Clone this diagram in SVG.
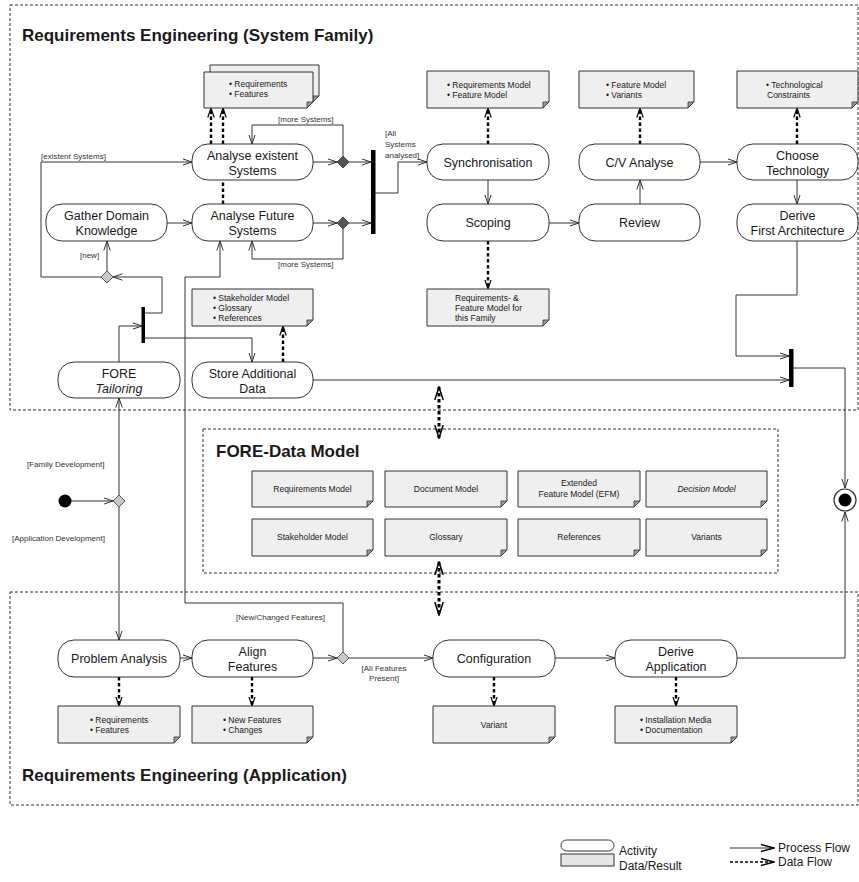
<svg xmlns="http://www.w3.org/2000/svg" width="859" height="882" viewBox="0 0 859 882">
  <defs>
    <style>
      .frame { fill: none; stroke: #333; stroke-width: 1; stroke-dasharray: 3 2; }
      .act { fill: #fff; stroke: #333; stroke-width: 1; }
      .doc { fill: #efefef; stroke: #333; stroke-width: 1; }
      .fold { fill: #9a9a9a; stroke: #333; stroke-width: 0.8; }
      .flow { fill: none; stroke: #333; stroke-width: 1; marker-end: url(#arr); }
      .data { fill: none; stroke: #000; stroke-width: 2.4; stroke-dasharray: 3.5 2.5; marker-end: url(#darr); }
      .both { fill: none; stroke: #000; stroke-width: 3; stroke-dasharray: 3.5 2.5; marker-start: url(#barr); marker-end: url(#barr); }
      text { font-family: "Liberation Sans", Arial, Helvetica, sans-serif; fill: #1a1a1a; }
      .t { font-size: 12.5px; text-anchor: middle; }
      .s { font-size: 8.5px; }
      .sc { font-size: 8.5px; text-anchor: middle; }
      .lbl { font-size: 8px; fill: #333; }
      .title { font-size: 17px; font-weight: bold; }
      .leg { font-size: 12px; }
      .dia { stroke: #333; stroke-width: 0.8; }
    </style>
    <marker id="arr" viewBox="0 0 10 8" refX="9.5" refY="4" markerWidth="10" markerHeight="8" orient="auto" markerUnits="userSpaceOnUse">
      <path d="M0,0.8 L9.5,4 L0,7.2" fill="none" stroke="#333" stroke-width="1"/>
    </marker>
    <marker id="darr" viewBox="0 0 10 8" refX="9.5" refY="4" markerWidth="10" markerHeight="8" orient="auto" markerUnits="userSpaceOnUse">
      <path d="M0,0.8 L9.5,4 L0,7.2" fill="none" stroke="#000" stroke-width="1.2"/>
    </marker>
    <marker id="barr" viewBox="0 0 14 10" refX="13" refY="5" markerWidth="14" markerHeight="10" orient="auto-start-reverse" markerUnits="userSpaceOnUse">
      <path d="M0,0.8 L13,5 L0,9.2" fill="none" stroke="#000" stroke-width="1.5"/>
    </marker>
    <marker id="larr" viewBox="0 0 14 10" refX="13" refY="5" markerWidth="14" markerHeight="10" orient="auto" markerUnits="userSpaceOnUse">
      <path d="M0,1.5 L13,5 L0,8.5" fill="none" stroke="#000" stroke-width="1.4"/>
    </marker>
  </defs>

  <rect width="859" height="882" fill="#fff"/>

  <!-- swimlane frames -->
  <g id="frames">
    <rect class="frame" x="10" y="5" width="848" height="405"/>
    <text class="title" x="22" y="41">Requirements Engineering (System Family)</text>
    <rect class="frame" x="203" y="429" width="575" height="144"/>
    <text class="title" x="216" y="457">FORE-Data Model</text>
    <rect class="frame" x="10" y="592" width="848" height="213"/>
    <text class="title" x="22" y="781">Requirements Engineering (Application)</text>
  </g>

  <!-- process and data flows -->
  <g id="connectors">
    <!-- process flow -->
    <path class="flow" d="M101,277 H41 V162 H192"/>
    <path class="flow" d="M167,223 H192"/>
    <path class="flow" d="M107,271 V241"/>
    <path class="flow" d="M145,313 H162 V277 H113"/>
    <path class="flow" d="M119,362 V326 H142"/>
    <path class="flow" d="M145,338 H252 V362"/>
    <path class="flow" d="M343,652 V603 H185 V277 H220 V241"/>
    <path class="flow" d="M313,162 H337"/>
    <path class="flow" d="M349,162 H371"/>
    <path class="flow" d="M343,156 V125 H252 V144"/>
    <path class="flow" d="M313,223 H337"/>
    <path class="flow" d="M349,223 H371"/>
    <path class="flow" d="M343,229 V259 H252 V241"/>
    <path class="flow" d="M375,193 H398 V162 H427"/>
    <path class="flow" d="M488,180 V204"/>
    <path class="flow" d="M549,223 H579"/>
    <path class="flow" d="M640,204 V180"/>
    <path class="flow" d="M700,162 H737"/>
    <path class="flow" d="M797,180 V204"/>
    <path class="flow" d="M797,241 V295 H736 V356 H789"/>
    <path class="flow" d="M313,380 H789"/>
    <path class="flow" d="M793,368 H845 V488"/>
    <path class="flow" d="M71,501 H113"/>
    <path class="flow" d="M119,495 V398"/>
    <path class="flow" d="M119,507 V640"/>
    <path class="flow" d="M180,658 H192"/>
    <path class="flow" d="M313,658 H337"/>
    <path class="flow" d="M349,658 H433"/>
    <path class="flow" d="M555,658 H615"/>
    <path class="flow" d="M737,658 H845 V512"/>

    <!-- data flow -->
    <path class="data" d="M211,144 V108"/>
    <path class="data" d="M223,204 V108"/>
    <path class="data" d="M488,144 V108"/>
    <path class="data" d="M640,144 V108"/>
    <path class="data" d="M797,144 V108"/>
    <path class="data" d="M488,241 V289"/>
    <path class="data" d="M283,362 V326"/>
    <path class="data" d="M119,677 V706"/>
    <path class="data" d="M252,677 V706"/>
    <path class="data" d="M494,677 V706"/>
    <path class="data" d="M676,677 V706"/>
    <path class="both" d="M439,387 V438"/>
    <path class="both" d="M439,562 V615"/>

    <!-- guard labels -->
    <text class="lbl" x="41" y="159">[existent Systems]</text>
    <text class="lbl" x="80" y="258">[new]</text>
    <text class="lbl" x="278" y="122">[more Systems]</text>
    <text class="lbl" x="278" y="267">[more Systems]</text>
    <text class="lbl" x="385" y="136">[All</text>
    <text class="lbl" x="385" y="147">Systems</text>
    <text class="lbl" x="385" y="158">analysed]</text>
    <text class="lbl" x="27" y="467">[Family Development]</text>
    <text class="lbl" x="12" y="541">[Application Development]</text>
    <text class="lbl" x="236" y="620">[New/Changed Features]</text>
    <text class="lbl" x="384" y="671" text-anchor="middle">[All Features</text>
    <text class="lbl" x="384" y="681" text-anchor="middle">Present]</text>
  </g>

  <!-- control nodes -->
  <g id="decision-existent"><path class="dia" d="M343,156 L349,162 L343,168 L337,162 Z" fill="#555"/></g>
  <g id="decision-future"><path class="dia" d="M343,217 L349,223 L343,229 L337,223 Z" fill="#555"/></g>
  <g id="decision-new"><path class="dia" d="M107,271 L113,277 L107,283 L101,277 Z" fill="#c8c8c8"/></g>
  <g id="decision-mode"><path class="dia" d="M119,495 L125,501 L119,507 L113,501 Z" fill="#c8c8c8"/></g>
  <g id="decision-features"><path class="dia" d="M343,652 L349,658 L343,664 L337,658 Z" fill="#c8c8c8"/></g>
  <g id="join-analysis"><rect x="371" y="150" width="4.5" height="84" fill="#000"/></g>
  <g id="join-tailoring"><rect x="141.5" y="307" width="3.5" height="36" fill="#000"/></g>
  <g id="join-family"><rect x="789" y="349" width="4.5" height="38" fill="#000"/></g>
  <g id="start"><circle cx="65" cy="501" r="6.5" fill="#000"/></g>
  <g id="end"><circle cx="845" cy="500" r="11" fill="#fff" stroke="#333" stroke-width="1.2"/><circle cx="845" cy="500" r="6.5" fill="#000"/></g>

  <!-- activities -->
  <g id="analyse-existent"><rect class="act" x="192" y="144" width="121" height="36" rx="16"/><text class="t" x="252.5" y="159.5">Analyse existent</text><text class="t" x="252.5" y="174.5">Systems</text></g>
  <g id="gather-domain"><rect class="act" x="46" y="204" width="121" height="37" rx="16"/><text class="t" x="106.5" y="220">Gather Domain</text><text class="t" x="106.5" y="235">Knowledge</text></g>
  <g id="analyse-future"><rect class="act" x="192" y="204" width="121" height="37" rx="16"/><text class="t" x="252.5" y="220">Analyse Future</text><text class="t" x="252.5" y="235">Systems</text></g>
  <g id="synchronisation"><rect class="act" x="427" y="144" width="122" height="36" rx="16"/><text class="t" x="488" y="166.5">Synchronisation</text></g>
  <g id="scoping"><rect class="act" x="427" y="204" width="122" height="37" rx="16"/><text class="t" x="488" y="227">Scoping</text></g>
  <g id="cv-analyse"><rect class="act" x="579" y="144" width="121" height="36" rx="16"/><text class="t" x="639.5" y="166.5">C/V Analyse</text></g>
  <g id="review"><rect class="act" x="579" y="204" width="121" height="37" rx="16"/><text class="t" x="639.5" y="227">Review</text></g>
  <g id="choose-technology"><rect class="act" x="737" y="144" width="121" height="36" rx="16"/><text class="t" x="797.5" y="159.5">Choose</text><text class="t" x="797.5" y="174.5">Technology</text></g>
  <g id="derive-architecture"><rect class="act" x="737" y="204" width="121" height="37" rx="16"/><text class="t" x="797.5" y="220">Derive</text><text class="t" x="797.5" y="235">First Architecture</text></g>
  <g id="fore-tailoring"><rect class="act" x="58" y="362" width="122" height="36" rx="16"/><text class="t" x="119" y="377.5">FORE</text><text class="t" x="119" y="392.5" font-style="italic">Tailoring</text></g>
  <g id="store-data"><rect class="act" x="192" y="362" width="121" height="36" rx="16"/><text class="t" x="252.5" y="377.5">Store Additional</text><text class="t" x="252.5" y="392.5">Data</text></g>
  <g id="problem-analysis"><rect class="act" x="58" y="640" width="122" height="37" rx="16"/><text class="t" x="119" y="663">Problem Analysis</text></g>
  <g id="align-features"><rect class="act" x="192" y="640" width="121" height="37" rx="16"/><text class="t" x="252.5" y="656">Align</text><text class="t" x="252.5" y="671">Features</text></g>
  <g id="configuration"><rect class="act" x="433" y="640" width="122" height="37" rx="16"/><text class="t" x="494" y="663">Configuration</text></g>
  <g id="derive-application"><rect class="act" x="615" y="640" width="122" height="37" rx="16"/><text class="t" x="676" y="656">Derive</text><text class="t" x="676" y="671">Application</text></g>

  <!-- results -->
  <g id="doc-analysis">
    <path class="doc" d="M210,65 H319 V96 L313,102 H210 Z"/><path class="fold" d="M319,96 H313 V102 Z"/>
    <path class="doc" d="M204,72 H313 V102 L307,108 H204 Z"/><path class="fold" d="M313,102 H307 V108 Z"/>
    <text class="s" x="229" y="87">• Requirements</text><text class="s" x="229" y="97">• Features</text>
  </g>
  <g id="doc-sync">
    <path class="doc" d="M427,71 H549 V102 L543,108 H427 Z"/><path class="fold" d="M549,102 H543 V108 Z"/>
    <text class="s" x="447" y="88">• Requirements Model</text><text class="s" x="447" y="98">• Feature Model</text>
  </g>
  <g id="doc-cv">
    <path class="doc" d="M579,71 H694 V102 L688,108 H579 Z"/><path class="fold" d="M694,102 H688 V108 Z"/>
    <text class="s" x="606" y="88">• Feature Model</text><text class="s" x="606" y="98">• Variants</text>
  </g>
  <g id="doc-technology">
    <path class="doc" d="M737,71 H858 V102 L852,108 H737 Z"/><path class="fold" d="M858,102 H852 V108 Z"/>
    <text class="s" x="766" y="88">• Technological</text><text class="s" x="767" y="98">Constraints</text>
  </g>
  <g id="doc-scoping">
    <path class="doc" d="M427,289 H549 V320 L543,326 H427 Z"/><path class="fold" d="M549,320 H543 V326 Z"/>
    <text class="s" x="455" y="301">Requirements- &amp;</text><text class="s" x="455" y="311">Feature Model for</text><text class="s" x="455" y="321">this Family</text>
  </g>
  <g id="doc-additional">
    <path class="doc" d="M192,289 H313 V320 L307,326 H192 Z"/><path class="fold" d="M313,320 H307 V326 Z"/>
    <text class="s" x="213" y="301">• Stakeholder Model</text><text class="s" x="213" y="311">• Glossary</text><text class="s" x="213" y="321">• References</text>
  </g>
  <g id="doc-problem">
    <path class="doc" d="M58,706 H180 V737 L174,743 H58 Z"/><path class="fold" d="M180,737 H174 V743 Z"/>
    <text class="s" x="90" y="723">• Requirements</text><text class="s" x="90" y="733">• Features</text>
  </g>
  <g id="doc-align">
    <path class="doc" d="M192,706 H313 V737 L307,743 H192 Z"/><path class="fold" d="M313,737 H307 V743 Z"/>
    <text class="s" x="223" y="723">• New Features</text><text class="s" x="223" y="733">• Changes</text>
  </g>
  <g id="doc-variant">
    <path class="doc" d="M433,706 H555 V737 L549,743 H433 Z"/><path class="fold" d="M555,737 H549 V743 Z"/>
    <text class="sc" x="494" y="728">Variant</text>
  </g>
  <g id="doc-application">
    <path class="doc" d="M615,706 H737 V737 L731,743 H615 Z"/><path class="fold" d="M737,737 H731 V743 Z"/>
    <text class="s" x="640" y="723">• Installation Media</text><text class="s" x="640" y="733">• Documentation</text>
  </g>

  <!-- data model -->
  <g id="dm-requirements"><path class="doc" d="M252,471 H373 V501 L367,507 H252 Z"/><path class="fold" d="M373,501 H367 V507 Z"/><text class="sc" x="312.5" y="492">Requirements Model</text></g>
  <g id="dm-document"><path class="doc" d="M385,471 H507 V501 L501,507 H385 Z"/><path class="fold" d="M507,501 H501 V507 Z"/><text class="sc" x="446" y="492">Document Model</text></g>
  <g id="dm-efm"><path class="doc" d="M518,471 H640 V501 L634,507 H518 Z" stroke-width="2.6" stroke="#000"/><path class="fold" d="M640,501 H634 V507 Z"/><text class="sc" x="579" y="486">Extended</text><text class="sc" x="579" y="497">Feature Model (EFM)</text></g>
  <g id="dm-decision"><path class="doc" d="M646,471 H767 V501 L761,507 H646 Z"/><path class="fold" d="M767,501 H761 V507 Z"/><text class="sc" x="706.5" y="492" font-style="italic">Decision Model</text></g>
  <g id="dm-stakeholder"><path class="doc" d="M252,519 H373 V550 L367,556 H252 Z"/><path class="fold" d="M373,550 H367 V556 Z"/><text class="sc" x="312.5" y="540">Stakeholder Model</text></g>
  <g id="dm-glossary"><path class="doc" d="M385,519 H507 V550 L501,556 H385 Z"/><path class="fold" d="M507,550 H501 V556 Z"/><text class="sc" x="446" y="540">Glossary</text></g>
  <g id="dm-references"><path class="doc" d="M518,519 H640 V550 L634,556 H518 Z"/><path class="fold" d="M640,550 H634 V556 Z"/><text class="sc" x="579" y="540">References</text></g>
  <g id="dm-variants"><path class="doc" d="M646,519 H767 V550 L761,556 H646 Z"/><path class="fold" d="M767,550 H761 V556 Z"/><text class="sc" x="706.5" y="540">Variants</text></g>

  <!-- legend -->
  <g id="legend">
    <rect class="act" x="561" y="840" width="53" height="11" rx="5.5"/>
    <text class="leg" x="619" y="855">Activity</text>
    <rect x="561" y="854" width="53" height="12" fill="#e6e6e6" stroke="#333" stroke-width="1"/>
    <text class="leg" x="619" y="870">Data/Result</text>
    <path d="M730,848 H774" fill="none" stroke="#333" stroke-width="1" marker-end="url(#larr)"/>
    <text class="leg" x="778" y="852">Process Flow</text>
    <path d="M730,862 H774" fill="none" stroke="#000" stroke-width="1.6" stroke-dasharray="3 2" marker-end="url(#larr)"/>
    <text class="leg" x="778" y="866">Data Flow</text>
  </g>
</svg>
